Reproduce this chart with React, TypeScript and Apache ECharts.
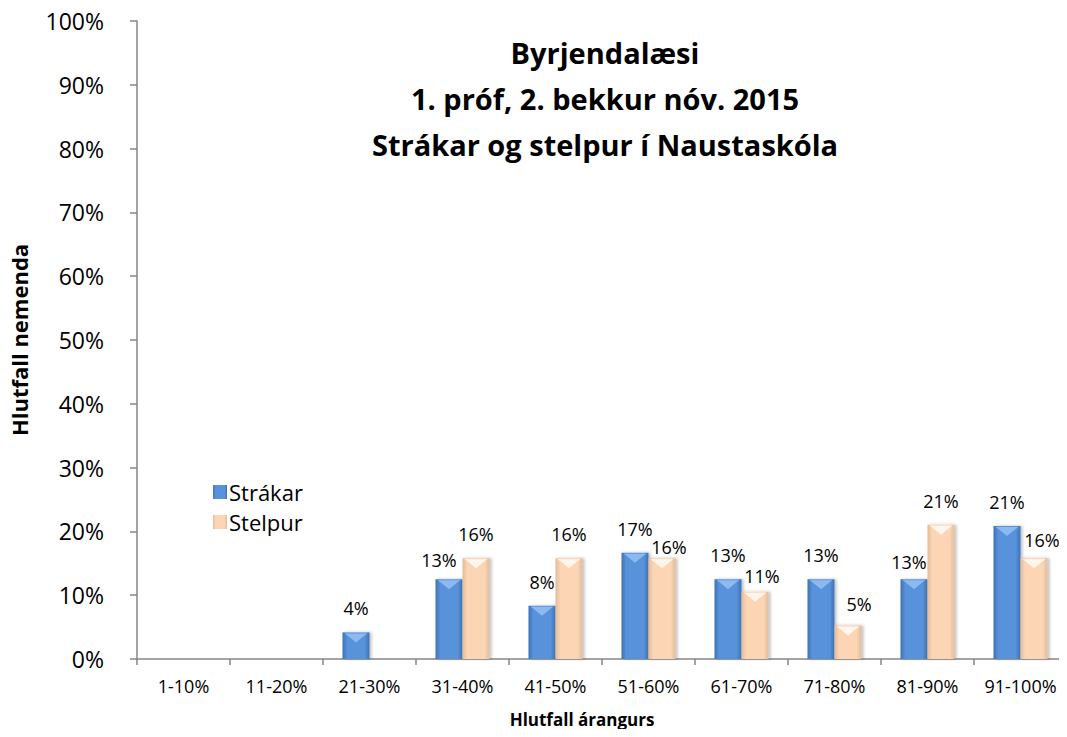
import React, { useEffect, useRef } from "react";
import * as echarts from "echarts";

const categories = ["1-10%", "11-20%", "21-30%", "31-40%", "41-50%", "51-60%", "61-70%", "71-80%", "81-90%", "91-100%"];
const strakar = [0, 0, 4.17, 12.5, 8.33, 16.67, 12.5, 12.5, 12.5, 20.83];
const stelpur = [0, 0, 0, 15.79, 15.79, 15.79, 10.53, 5.26, 21.05, 15.79];
const titleLines = ["Byrjendalæsi", "1. próf, 2. bekkur nóv. 2015", "Strákar og stelpur í Naustaskóla"];

// label nudges (dx, dy) for labels that were moved aside in the original
const strakarLabelNudge: Record<number, [number, number]> = { 3: [-10, 5], 8: [-5, 7] };
const stelpurLabelNudge: Record<number, [number, number]> = { 5: [7, 13], 6: [7, 8], 7: [11, 3], 9: [8, 6] };

const FONT = "'Open Sans', 'Noto Sans', sans-serif";
const BAR_W = 27;

export default function App() {
  const ref = useRef<HTMLDivElement>(null);
  useEffect(() => {
    if (!ref.current) return;
    const chart = echarts.init(ref.current, null, { renderer: "svg" });
    const blue = new echarts.graphic.LinearGradient(0, 0, 1, 0, [
      { offset: 0, color: "#3d72b4" },
      { offset: 0.18, color: "#5892da" },
      { offset: 0.82, color: "#5892da" },
      { offset: 1, color: "#3d72b4" },
    ]);
    const peach = new echarts.graphic.LinearGradient(0, 0, 1, 0, [
      { offset: 0, color: "#e2bb9b" },
      { offset: 0.18, color: "#fcd5b5" },
      { offset: 0.82, color: "#fcd5b5" },
      { offset: 1, color: "#e2bb9b" },
    ]);
    const labelFmt = (p: any) => (p.value > 0 ? Math.round(p.value) + "%" : "");
    const barData = (vals: number[], nudges: Record<number, [number, number]>) =>
      vals.map((v, i) => (nudges[i] ? { value: v, label: { offset: nudges[i] } } : v));
    const capData = (vals: number[]) =>
      vals.map((v, i) => [i, v]).filter((d) => d[1] > 0);
    const capSeries = (name: string, vals: number[], dx: number, color: string) => ({
      name,
      type: "custom",
      data: capData(vals),
      silent: true,
      z: 5,
      renderItem: (params: any, api: any) => {
        const p = api.coord([api.value(0), api.value(1)]);
        const cx = p[0] + dx;
        const y = p[1];
        const hw = BAR_W / 2 - 2;
        return {
          type: "polygon",
          shape: {
            points: [
              [cx - hw, y + 1],
              [cx + hw, y + 1],
              [cx + hw - 3, y + 3],
              [cx, y + 10],
              [cx - hw + 3, y + 3],
            ],
          },
          style: { fill: color },
        };
      },
    });
    const labelStyle = {
      show: true,
      position: "top",
      distance: 15,
      fontFamily: FONT,
      fontSize: 18,
      color: "#000",
      formatter: labelFmt,
    };
    chart.setOption({
      animation: false,
      textStyle: { fontFamily: FONT },
      title: {
        text: titleLines.join("\n"),
        left: 600,
        top: 24,
        textAlign: "center",
        textStyle: { fontFamily: FONT, fontSize: 29, fontWeight: "bold", color: "#000", lineHeight: 46 },
      },
      legend: {
        orient: "vertical",
        left: 208,
        top: 476,
        itemWidth: 14,
        itemHeight: 14,
        itemGap: 8,
        icon: "rect",
        textStyle: { fontFamily: FONT, fontSize: 22, color: "#000", padding: [0, 0, 0, -3] },
        data: ["Strákar", "Stelpur"],
      },
      grid: { left: 129, top: 21, width: 940, bottom: 78, containLabel: false },
      xAxis: {
        type: "category",
        data: categories,
        name: "Hlutfall árangurs",
        nameLocation: "middle",
        nameGap: 52,
        nameTextStyle: { fontFamily: FONT, fontSize: 17, fontWeight: "bold", color: "#000", padding: [0, 0, 0, -40] },
        axisLine: { lineStyle: { color: "#868686", width: 1.5 } },
        axisTick: { show: true, length: 6, lineStyle: { color: "#868686", width: 1.5 } },
        axisLabel: { fontFamily: FONT, fontSize: 18, color: "#000", margin: 18, interval: 0 },
      },
      yAxis: {
        type: "value",
        min: 0,
        max: 100,
        interval: 10,
        name: "Hlutfall nemenda",
        nameLocation: "middle",
        nameGap: 107,
        nameTextStyle: { fontFamily: FONT, fontSize: 22, fontWeight: "bold", color: "#000" },
        axisLine: { show: true, lineStyle: { color: "#868686", width: 1.5 } },
        axisTick: { show: true, length: 7, lineStyle: { color: "#868686", width: 1.5 } },
        splitLine: { show: false },
        axisLabel: { fontFamily: FONT, fontSize: 23, color: "#000", margin: 33, formatter: "{value}%" },
      },
      series: [
        {
          name: "Strákar",
          type: "bar",
          data: barData(strakar, strakarLabelNudge),
          barWidth: BAR_W,
          barGap: "0%",
          itemStyle: { color: blue, shadowColor: "rgba(0,0,0,0.25)", shadowBlur: 3, shadowOffsetX: 2 },
          label: labelStyle,
        },
        {
          name: "Stelpur",
          type: "bar",
          data: barData(stelpur, stelpurLabelNudge),
          barWidth: BAR_W,
          itemStyle: { color: peach, shadowColor: "rgba(0,0,0,0.25)", shadowBlur: 3, shadowOffsetX: 2 },
          label: labelStyle,
        },
        capSeries("StrákarCap", strakar, -BAR_W / 2, "#8cbaf0"),
        capSeries("StelpurCap", stelpur, BAR_W / 2, "#fff7ee"),
      ],
    });
    return () => chart.dispose();
  }, []);
  return <div ref={ref} style={{ width: 1067, height: 737, margin: -8 }} />;
}
